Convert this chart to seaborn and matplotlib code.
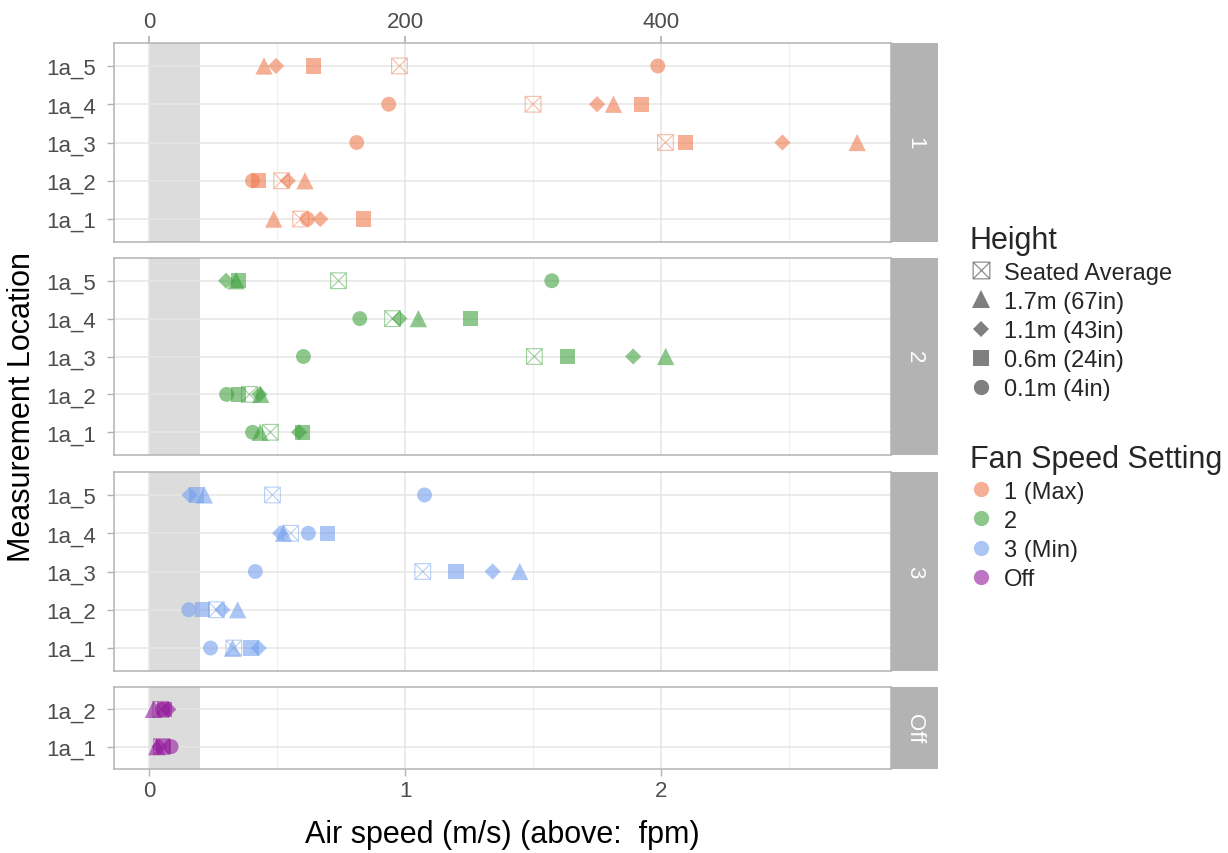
import numpy as np
import pandas as pd
import matplotlib
matplotlib.use("Agg")
import matplotlib.pyplot as plt
from matplotlib.path import Path
from matplotlib.lines import Line2D
from matplotlib.patches import Rectangle
import seaborn as sns

# ---- data: air speed (m/s) per fan setting, location and height ----
locations = ["1a_1", "1a_2", "1a_3", "1a_4", "1a_5"]
heights = ["1.7m (67in)", "1.1m (43in)", "0.6m (24in)", "0.1m (4in)"]

# columns follow `heights`, rows follow `locations`
fan1_speed = [
    [0.487, 0.669, 0.839, 0.618],
    [0.609, 0.542, 0.427, 0.404],
    [2.766, 2.474, 2.094, 0.811],
    [1.814, 1.750, 1.923, 0.936],
    [0.449, 0.496, 0.642, 1.987],
]
fan1_seated = [0.592, 0.518, 2.017, 1.500, 0.978]

fan2_speed = [
    [0.434, 0.586, 0.598, 0.404],
    [0.436, 0.431, 0.349, 0.303],
    [2.018, 1.891, 1.633, 0.603],
    [1.052, 0.978, 1.257, 0.823],
    [0.340, 0.301, 0.349, 1.573],
]
fan2_seated = [0.474, 0.392, 1.505, 0.951, 0.740]

fan3_speed = [
    [0.326, 0.428, 0.398, 0.240],
    [0.346, 0.286, 0.210, 0.155],
    [1.448, 1.342, 1.199, 0.415],
    [0.525, 0.512, 0.697, 0.622],
    [0.216, 0.158, 0.184, 1.076],
]
fan3_seated = [0.331, 0.263, 1.069, 0.553, 0.482]

off_locations = ["1a_1", "1a_2"]
off_speed = [
    [0.030, 0.040, 0.056, 0.086],
    [0.017, 0.075, 0.059, 0.052],
]
off_seated = [0.049, 0.046]

fan_labels = ["1 (Max)", "2", "3 (Min)", "Off"]
strip_labels = ["1", "2", "3", "Off"]
fan_colors = ["#EE7B4E", "#41A23F", "#73A0EE", "#941B9D"]
fpm_ticks = [0, 200, 400]

panels = [
    (locations, fan1_speed, fan1_seated),
    (locations, fan2_speed, fan2_seated),
    (locations, fan3_speed, fan3_seated),
    (off_locations, off_speed, off_seated),
]

# ---- marker styling ----
shape_map = {"1.7m (67in)": "^", "1.1m (43in)": "D", "0.6m (24in)": "s", "0.1m (4in)": "o"}
size_map = {"1.7m (67in)": 155, "1.1m (43in)": 68, "0.6m (24in)": 120, "0.1m (4in)": 115}

# open square with a cross through it
box_x = Path(
    [(-1, -1), (1, -1), (1, 1), (-1, 1), (-1, -1), (-1, -1), (1, 1), (1, -1), (-1, 1)],
    [Path.MOVETO, Path.LINETO, Path.LINETO, Path.LINETO, Path.CLOSEPOLY,
     Path.MOVETO, Path.LINETO, Path.MOVETO, Path.LINETO],
)

sns.set_theme(style="white")
plt.rcParams["font.family"] = ["Liberation Sans", "DejaVu Sans"]

W, H = 1228, 854
fig = plt.figure(figsize=(W / 100, H / 100), dpi=100)

def fx(px):
    return px / W

def fy(py):
    return 1 - py / H

left_px, right_px, strip_px = 114, 891, 938
panel_px = [(44, 243), (259, 456), (473, 672), (688, 770)]

grid_col = "#E6E6E6"
border_col = "#B3B3B3"
tick_col = "#4D4D4D"
xmin, xmax = -0.137, 2.898
fpm_per_ms = 200.0

axes = []
for i, ((locs, speeds, seated), (top, bot)) in enumerate(zip(panels, panel_px)):
    ax = fig.add_axes([fx(left_px), fy(bot), fx(right_px - left_px), (bot - top) / H])
    axes.append(ax)

    rows = []
    for loc, vals in zip(locs, speeds):
        for h, v in zip(heights, vals):
            rows.append({"location": loc, "height": h, "speed": v})
    df = pd.DataFrame(rows)
    seated_df = pd.DataFrame({"location": locs, "speed": seated})

    ax.axvspan(0, 0.2, color="#DCDCDC", zorder=0.3, lw=0)

    sns.scatterplot(
        data=df, x="speed", y="location", style="height", markers=shape_map,
        size="height", sizes=size_map, color=fan_colors[i], alpha=0.6,
        linewidth=0, legend=False, ax=ax, zorder=3,
    )
    sns.scatterplot(
        data=seated_df, x="speed", y="location", marker=box_x, s=128,
        facecolor="none", edgecolor=fan_colors[i], linewidth=0.8, alpha=0.5,
        legend=False, ax=ax, zorder=3,
    )

    n = len(locs)
    ax.set_ylim(-0.6, n - 1 + 0.6)
    ax.set_xlim(xmin, xmax)
    ax.set_xticks([0, 1, 2])
    ax.set_xticks([0.5, 1.5, 2.5], minor=True)
    ax.set_axisbelow(True)
    ax.grid(True, which="major", axis="both", color=grid_col, lw=1.1, zorder=0.5)
    ax.grid(True, which="minor", axis="x", color="#EFEFEF", lw=0.8, zorder=0.5)
    for s in ax.spines.values():
        s.set_color(border_col)
        s.set_linewidth(1.1)
    ax.set_xlabel("")
    ax.set_ylabel("")
    ax.tick_params(axis="y", labelsize=16, labelcolor=tick_col, length=5,
                   color=border_col, width=1, left=True, pad=8)
    if i < 3:
        ax.tick_params(axis="x", bottom=False, labelbottom=False)
    else:
        ax.tick_params(axis="x", labelsize=16, labelcolor=tick_col, length=5,
                       color=border_col, width=1, bottom=True, pad=3)
    ax.tick_params(axis="x", which="minor", bottom=False)

    # facet strip on the right
    fig.patches.append(Rectangle((fx(right_px), fy(bot)), fx(strip_px - right_px),
                                 (bot - top) / H, transform=fig.transFigure,
                                 facecolor="#B3B3B3", edgecolor="none"))
    fig.text(fx((right_px + strip_px) / 2), fy((top + bot) / 2), strip_labels[i],
             rotation=-90, color="white", fontsize=16, ha="center", va="center")

# secondary fpm axis on top of the first panel
top_ax = axes[0].secondary_xaxis(
    "top", functions=(lambda v: v * fpm_per_ms, lambda v: v / fpm_per_ms))
top_ax.set_xticks(fpm_ticks)
top_ax.tick_params(labelsize=16, labelcolor=tick_col, length=5, color=border_col, pad=3)
top_ax.spines["top"].set_visible(False)

fig.text(fx((left_px + right_px) / 2), fy(835), "Air speed (m/s) (above:  fpm)",
         fontsize=22, ha="center", va="center", color="black")
fig.text(fx(22), fy(407), "Measurement Location", fontsize=22, rotation=90,
         ha="center", va="center", color="black")

# ---- legends ----
grey = "#7F7F7F"
h_handles = [Line2D([], [], marker=box_x, linestyle="", markerfacecolor="none",
                    markeredgecolor="#8C8C8C", markeredgewidth=0.9, markersize=12)]
legend_ms = {"1.7m (67in)": 13, "1.1m (43in)": 8, "0.6m (24in)": 11, "0.1m (4in)": 11}
for h in heights:
    h_handles.append(Line2D([], [], marker=shape_map[h], linestyle="", color=grey,
                            markeredgewidth=0, markersize=legend_ms[h]))
leg1 = fig.legend(h_handles, ["Seated Average"] + heights, title="Height",
                  loc="upper left", bbox_to_anchor=(fx(953), fy(209)), frameon=False,
                  fontsize=17, title_fontsize=22, alignment="left", handlelength=1.0,
                  handletextpad=0.45, labelspacing=0.3, borderpad=0.2)
f_handles = [Line2D([], [], marker="o", linestyle="", color=c, alpha=0.6,
                    markeredgewidth=0, markersize=11) for c in fan_colors]
leg2 = fig.legend(f_handles, fan_labels, title="Fan Speed Setting",
                  loc="upper left", bbox_to_anchor=(fx(953), fy(428)), frameon=False,
                  fontsize=17, title_fontsize=22, alignment="left", handlelength=1.0,
                  handletextpad=0.45, labelspacing=0.3, borderpad=0.2)

fig.savefig("out.png", dpi=100)
